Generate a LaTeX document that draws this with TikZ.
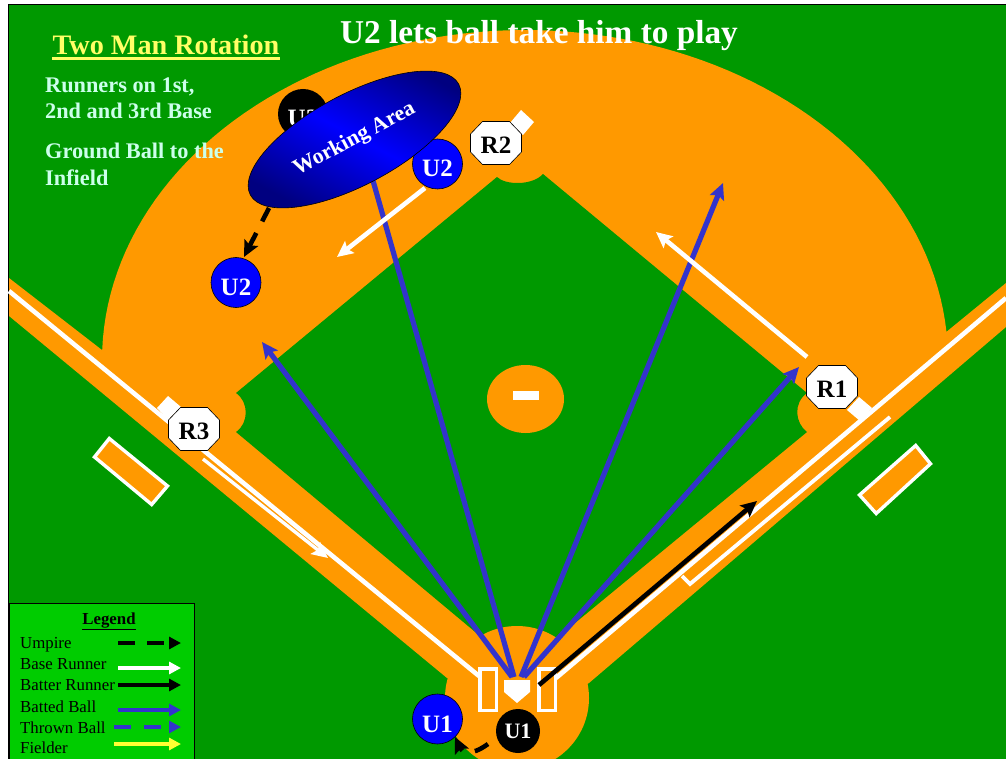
\documentclass[tikz,border=0pt]{standalone}
\usepackage{fontspec}
\setmainfont{Liberation Serif}
\usetikzlibrary{arrows.meta,shapes.geometric}
\definecolor{grass}{RGB}{0,153,0}
\definecolor{dirt}{RGB}{255,153,0}
\definecolor{legendgreen}{RGB}{0,204,0}
\definecolor{ballblue}{RGB}{51,51,204}
\definecolor{paleyellow}{RGB}{255,255,102}
\definecolor{palegreen}{RGB}{204,255,235}
\definecolor{fieldyellow}{RGB}{255,255,51}
\newcommand{\fs}[1]{\fontsize{#1}{#1}\selectfont}
\newcommand{\octo}[4]{%
  \path[draw=black,line width=0.6pt,fill=white,shift={(#2,#3)}] (-13.5,-21.5) -- (13.5,-21.5) -- (25.5,-9) -- (25.5,9) -- (13.5,21.5) -- (-13.5,21.5) -- (-25.5,9) -- (-25.5,-9) -- cycle;
  \node[runnerR] (#1) at (#2,#3) {#4};}
\tikzset{
  x=1pt,y=-1pt,
  dirtfill/.style={fill=dirt,draw=none},
  grassfill/.style={fill=grass,draw=none},
  baseplate/.style={fill=white,draw=none},
  whiteline/.style={draw=white,line width=4.6pt},
  boxline/.style={draw=white,fill=dirt,line width=3.4pt,line join=miter},
  tipA/.style={-{Stealth[length=16pt,width=15pt,inset=3pt]}},
  tipB/.style={-{Triangle[length=12pt,width=12pt]}},
  runner/.style={draw=white,line width=4.6pt,tipA},
  batter/.style={draw=black,line width=4.6pt,tipA},
  batted/.style={draw=ballblue,line width=5.2pt,tipA},
  umparrow/.style={draw=black,line width=4.6pt,dash pattern=on 15pt off 13pt,tipA},
  fielderU/.style={circle,draw=black,line width=0.6pt,fill=blue,text=white,minimum size=50pt,inner sep=0pt,font=\fs{25}\bfseries,text height=26pt,text depth=0pt},
  umpireU/.style={circle,fill=black,text=white,minimum size=#1,inner sep=0pt,font=\fs{25}\bfseries,text height=26pt,text depth=0pt},
  runnerR/.style={text=black,inner sep=0pt,font=\fs{25}\bfseries,text height=21.5pt,text depth=0pt},
  infotext/.style={anchor=base west,text=palegreen,font=\fs{22.3}\bfseries,inner sep=0pt},
  legendtext/.style={anchor=base west,text=black,font=\fs{16.8},inner sep=0pt},
  lg/.style={line width=4.4pt,tipB}
}
\begin{document}
\begin{tikzpicture}
\useasboundingbox (0,0) rectangle (1006,759);
\clip (0,0) rectangle (1006,759);
\fill[white] (0,0) rectangle (1006,759);
\fill[grass] (9,4) rectangle (1006,759);
\draw[black,line width=1.2pt] (8.5,759) -- (8.5,4.4) -- (1006,4.4);
% dirt
\path[dirtfill] (9,278) -- (102,350)
  -- plot[domain=178.2:4.9,samples=90] ({525+423*cos(\x)},{360-330*sin(\x)})
  -- (1006,283) -- (1006,327) -- (589,683) -- (517,720) -- (447,678) -- (9,316) -- cycle;
% grass
\path[grassfill] (497,177) .. controls (505,185) and (532,186) .. (543,174) -- (807,393)
  .. controls (793,403) and (795,423) .. (807,432) -- (558,637) -- (518,660) -- (480,636) -- (236,432)
  .. controls (249,423) and (249,402) .. (236,393) -- cycle;
\path[dirtfill] (517,698) circle[radius=72];
\path[dirtfill] (525.5,399) ellipse[x radius=38.5,y radius=34];
\fill[white] (513,391) rectangle (539,400);
% dugouts
\path[boxline] (109.3,438.5) -- (167.5,486) -- (151.7,504.5) -- (94.5,457) -- cycle;
\path[boxline] (915.7,445.5) -- (930.5,463.8) -- (876.2,513.5) -- (859.5,495) -- cycle;
% foul lines
\coordinate (leftfoulA) at (9,291);
\coordinate (leftfoulB) at (479,676);
\coordinate (rightfoulA) at (1006,298);
\coordinate (rightfoulB) at (556,678);
\draw[whiteline] (leftfoulA) -- (leftfoulB);
\draw[whiteline] (rightfoulA) -- (rightfoulB);
\coordinate (coachA) at (890,417);
\coordinate (coachB) at (690,584);
\coordinate (coachC) at (682,576);
\draw[whiteline,line width=3.8pt] (coachA) -- (coachB) -- (coachC);
% bases
\path[baseplate] (521,110) -- (534,122) -- (523,135) -- (510,123) -- cycle;
\path[baseplate] (859,397) -- (872,408) -- (860,421) -- (847,410) -- cycle;
\path[baseplate] (168,396) -- (181,407) -- (168,420) -- (157,408) -- cycle;
\path[baseplate] (504,680) -- (530,680) -- (530,692) -- (517,703) -- (504,692) -- cycle;
% batter boxes
\path[boxline] (480,669) rectangle (496.5,710.5);
\path[boxline] (539,669) rectangle (555.5,710.5);
% coordinates of free ends
\coordinate (hA) at (512,677);
\coordinate (hB) at (514,677);
\coordinate (hC) at (521,677);
\coordinate (hD) at (524,677);
\coordinate (ballA) at (262,342);
\coordinate (ballB) at (358.6,130);
\coordinate (ballC) at (723,183);
\coordinate (ballD) at (799,367);
\coordinate (batA) at (539,685);
\coordinate (batB) at (757,501);
\coordinate (runA) at (807,357);
\coordinate (runB) at (656,232);
\coordinate (runC) at (203,459);
\coordinate (runD) at (328,558);
\coordinate (uA) at (269,208);
% batted balls
\draw[batted] (hA) -- (ballA);
\draw[batted] (hB) -- (ballB);
\draw[batted] (hC) -- (ballC);
\draw[batted] (hD) -- (ballD);
\draw[batter] (batA) -- (batB);
\draw[runner] (runA) -- (runB);
\draw[runner,line width=3.4pt] (runC) -- (runD);
% umpires and fielders
\node[umpireU=50pt] (uTwoOld) at (303,114) {U2};
\node[fielderU] (uTwoStart) at (437.5,164) {U2};
\node[fielderU] (uTwoEnd) at (236,282.5) {U2};
\node[fielderU] (uOneEnd) at (437.5,719) {U1};
\node[circle,fill=black,text=white,minimum size=44pt,inner sep=0pt,font=\fs{22}\bfseries] (uOneStart) at (518,731) {U1};
\coordinate (uOneFree) at (488,744);
\coordinate (uOneTip) at (455,737);
\draw[umparrow] (uOneFree) .. controls (470,757) and (462,752) .. (uOneTip);
\coordinate (uTip) at (244,257);
\draw[umparrow] (uA) -- (uTip);
\coordinate (uTwoFree) at (425,188);
\coordinate (uTwoTip) at (337,257);
\draw[runner] (uTwoFree) -- (uTwoTip);
\node[ellipse,rotate=28,minimum width=236pt,minimum height=91pt,inner sep=0pt,draw=black,line width=0.6pt,
  top color=blue!50!black,bottom color=blue!50!black,middle color=blue,shading angle=-28,text=white,font=\fs{22}\bfseries] (working) at (354.5,139.5) {Working Area};
% runners
\octo{rTwo}{496}{143}{R2}
\octo{rThree}{194}{429}{R3}
\octo{rOne}{832}{387}{R1}
% titles
\node[anchor=base,text=white,font=\fs{33.3}\bfseries,inner sep=0pt] (title) at (539,44) {U2 lets ball take him to play};
\node[anchor=base,text=paleyellow,font=\fs{28.2}\bfseries,inner sep=0pt] (sub) at (166,55) {Two Man Rotation};
\coordinate (subA) at (52,58.7);
\coordinate (subB) at (280,58.7);
\draw[paleyellow,line width=2.4pt] (subA) -- (subB);
\node[infotext] (tA) at (45,93) {Runners on 1st,};
\node[infotext] (tB) at (45,119) {2nd and 3rd Base};
\node[infotext] (tC) at (45,159) {Ground Ball to the};
\node[infotext] (tD) at (45,186) {Infield};
% legend
\path[fill=legendgreen,draw=black,line width=1pt] (9,603) rectangle (194,765);
\node[anchor=base,text=black,font=\fs{16.8}\bfseries,inner sep=0pt] (lgTitle) at (109,624) {\underline{Legend}};
\node[legendtext] (lA) at (20,648) {Umpire};
\node[legendtext] (lB) at (20,669) {Base Runner};
\node[legendtext] (lC) at (20,690) {Batter Runner};
\node[legendtext] (lD) at (20,712) {Batted Ball};
\node[legendtext] (lE) at (20,733) {Thrown Ball};
\node[legendtext] (lF) at (20,753.5) {Fielder};
\coordinate (aS) at (118,643); \coordinate (aE) at (181,643);
\coordinate (bS) at (118,668); \coordinate (bE) at (181,668);
\coordinate (cS) at (118,685); \coordinate (cE) at (181,685);
\coordinate (dS) at (118,710); \coordinate (dE) at (181,710);
\coordinate (eS) at (114,727); \coordinate (eE) at (181,727);
\coordinate (fS) at (114,744); \coordinate (fE) at (181,744);
\draw[lg,black,dash pattern=on 17pt off 12pt] (aS) -- (aE);
\draw[lg,white] (bS) -- (bE);
\draw[lg,black] (cS) -- (cE);
\draw[lg,ballblue] (dS) -- (dE);
\draw[lg,ballblue,dash pattern=on 17pt off 13pt] (eS) -- (eE);
\draw[lg,fieldyellow] (fS) -- (fE);
\end{tikzpicture}
\end{document}
